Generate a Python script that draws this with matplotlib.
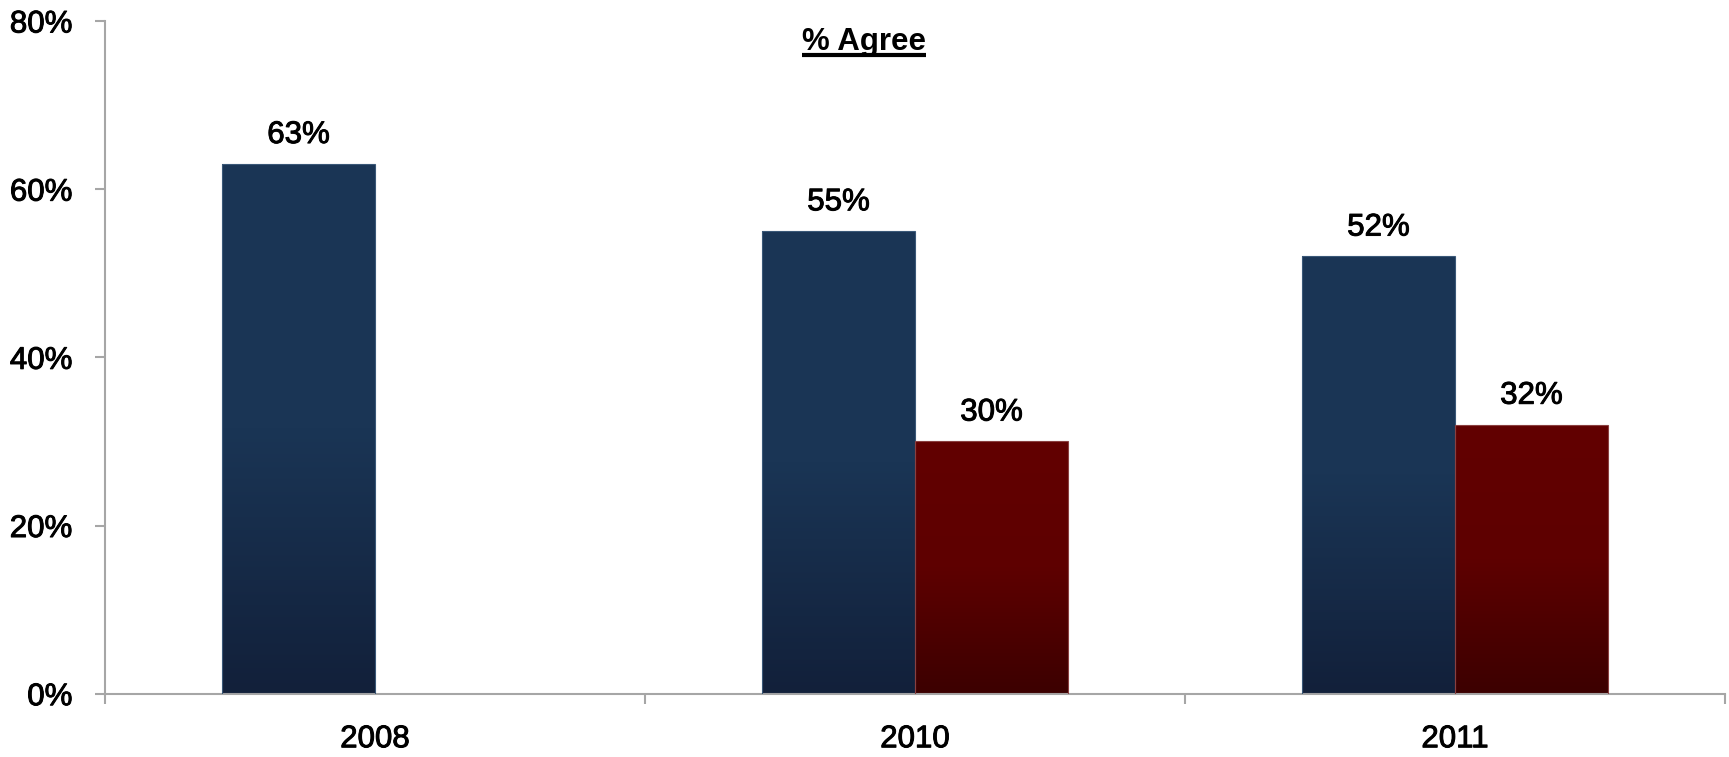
import numpy as np
import matplotlib
matplotlib.use('Agg')
from matplotlib import pyplot
from matplotlib import patheffects
from matplotlib.colors import LinearSegmentedColormap

years = ['2008', '2010', '2011']
agree_a = [63, 55, 52]
agree_b = [None, 30, 32]
yticks = [0, 20, 40, 60, 80]
title = '% Agree'

pyplot.rcParams['font.family'] = ['Liberation Sans', 'DejaVu Sans']
pyplot.rcParams['font.size'] = 22.5
# slightly heavier glyphs than plain regular weight
heavy = [patheffects.withStroke(linewidth=0.7, foreground='black')]

blue_cmap = LinearSegmentedColormap.from_list('blue', ['#12203a', '#1a3555', '#1b3656'])
red_cmap = LinearSegmentedColormap.from_list('red', ['#3c0000', '#5e0000', '#620000'])

fig = pyplot.figure(figsize=(17.29, 7.57), dpi=100)
ax = fig.add_axes([105/1729, 1-693.7/757, 1620/1729, (693.7-21)/757])

width = 0.2833


def gradient_bar(ax, x, h, cmap, edge):
    bars = ax.bar(x, h, width=width, align='edge', color='none',
                  edgecolor=edge, linewidth=0.8, zorder=3)
    grad = np.linspace(0, 1, 256).reshape(-1, 1)
    img = ax.imshow(grad, cmap=cmap, origin='lower', aspect='auto',
                    extent=(x, x+width, 0, h), zorder=2)
    img.set_clip_path(bars[0])
    ax.annotate('%d%%' % h, (x+width/2, h), xytext=(0, 10), textcoords='offset points',
                ha='center', va='bottom', path_effects=heavy)


for i, year in enumerate(years):
    c = i + 0.5
    gradient_bar(ax, c-width, agree_a[i], blue_cmap, '#3a5878')
    if agree_b[i] is not None:
        gradient_bar(ax, c, agree_b[i], red_cmap, '#8a4040')

ax.set_xlim(0, 3)
ax.set_ylim(0, 80)
ax.set_yticks(yticks)
ax.set_yticklabels(['%d%%' % t for t in yticks], path_effects=heavy)
ax.set_xticks([0, 1, 2, 3])
ax.set_xticklabels([])
ax.set_xticks([0.5, 1.5, 2.5], minor=True)
ax.set_xticklabels(years, minor=True, path_effects=heavy)
ax.tick_params(axis='x', which='minor', length=0, pad=22)
ax.tick_params(axis='x', which='major', length=7.5, color='#a6a6a6', width=1.5)
ax.tick_params(axis='y', length=7.5, color='#a6a6a6', width=1.5, pad=16)

for s in ['top', 'right']:
    ax.spines[s].set_visible(False)
for s in ['left', 'bottom']:
    ax.spines[s].set_color('#a6a6a6')
    ax.spines[s].set_linewidth(1.5)

t = ax.text(1.406, 77.5, title, ha='center', va='center', fontweight='bold')
fig.canvas.draw()
bb = t.get_window_extent().transformed(ax.transData.inverted())
ax.plot([bb.x0, bb.x1], [75.95, 75.95], color='black', lw=3, solid_capstyle='butt', clip_on=False)

fig.savefig('out.png', dpi=100)
